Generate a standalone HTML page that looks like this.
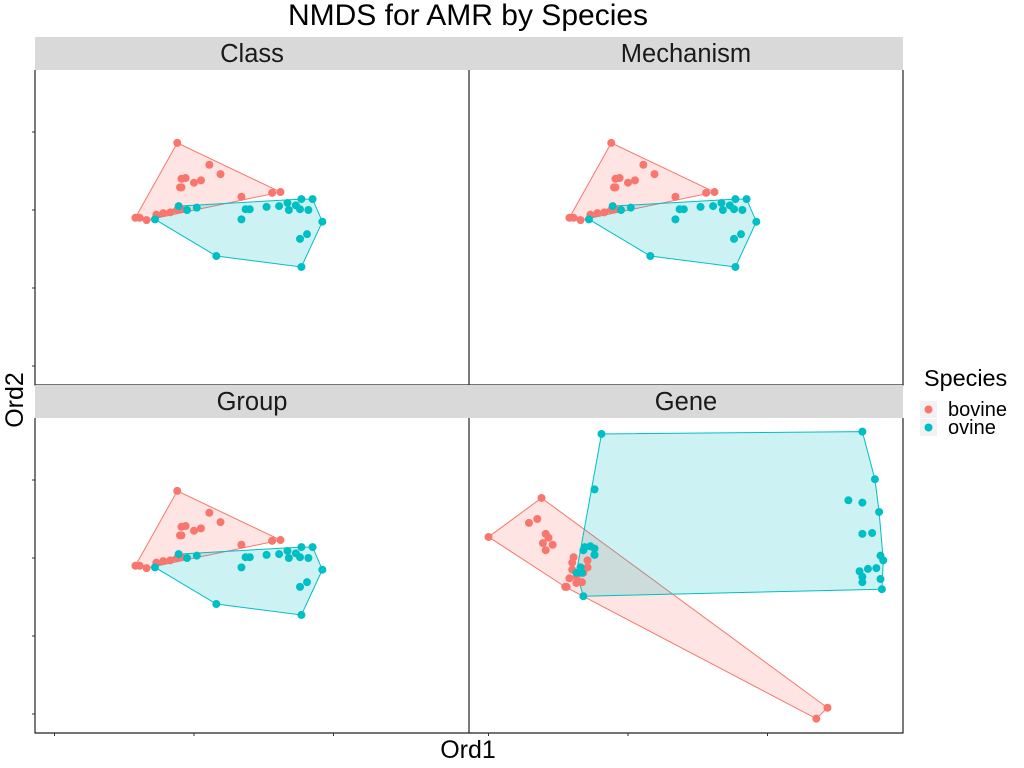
<!DOCTYPE html>
<html><head><meta charset="utf-8"><style>body{margin:0;background:#fff}svg{display:block;font-family:"Liberation Sans",sans-serif}</style></head>
<body>
<svg id="c" width="1024" height="768">
<text x="468" y="25" font-size="30" text-anchor="middle" fill="#000">NMDS for AMR by Species</text>
<text x="468" y="758" font-size="25" text-anchor="middle">Ord1</text>
<text transform="translate(23,400) rotate(-90)" font-size="25" text-anchor="middle">Ord2</text>
<g>
<text x="924" y="386" font-size="23.4">Species</text>
<rect x="920" y="401" width="17" height="17" fill="#f2f2f2"/>
<circle cx="928.5" cy="409.5" r="4" fill="#F8766D"/>
<text x="948" y="416" font-size="20">bovine</text>
<rect x="920" y="419" width="17" height="17" fill="#f2f2f2"/>
<circle cx="928.5" cy="427.5" r="4" fill="#00BFC4"/>
<text x="948" y="434" font-size="20">ovine</text>
</g>
</svg>
<script>
const panelNames=["Class","Mechanism","Group","Gene"];
const xTicks=[-1,0,1];
const yTicks=[1,0,-1,-2];
const baseBovX=[-0.12,0.11,0.19,-0.09,-0.06,-0.10,-0.09,0.00,0.05,0.34,0.56,0.62,-0.42,-0.39,-0.34,-0.27,-0.22,-0.17,-0.12,-0.09];
const baseBovY=[0.86,0.58,0.46,0.40,0.41,0.29,0.29,0.35,0.38,0.17,0.22,0.23,-0.10,-0.10,-0.13,-0.06,-0.04,-0.03,0.00,0.01];
const baseOviX=[-0.11,0.02,-0.05,-0.28,0.37,0.40,0.34,0.52,0.61,0.67,0.68,0.73,0.76,0.77,0.85,0.82,0.92,0.81,0.76,0.16,0.77];
const baseOviY=[0.05,0.03,0,-0.12,0.01,0.01,-0.12,0.04,0.05,0.09,0,0.06,0.01,0.14,0.14,0,-0.15,-0.31,-0.37,-0.59,-0.73];
const geneBovX=[-0.62,-1.00,-0.71,-0.65,-0.59,-0.57,-0.61,-0.54,-0.59,-0.39,-0.40,-0.40,-0.42,-0.37,-0.33,-0.45,-0.44,-0.29,-0.29,-0.32,-0.37,1.43,1.35];
const geneBovY=[0.77,0.27,0.45,0.50,0.31,0.26,0.19,0.17,0.10,0.01,-0.06,-0.15,-0.26,-0.32,-0.31,-0.37,-0.37,-0.03,-0.12,-0.19,-0.24,-1.92,-2.06];
const geneOviX=[-0.19,1.68,1.77,-0.24,1.58,1.68,1.80,1.68,1.75,1.81,1.83,1.66,1.72,1.78,1.68,1.68,1.81,1.82,-0.32,-0.31,-0.27,-0.24,-0.24,-0.32,-0.34,-0.33,-0.37];
const geneOviY=[1.59,1.62,1.01,0.88,0.74,0.71,0.59,0.31,0.32,0.03,-0.03,-0.17,-0.14,-0.13,-0.24,-0.31,-0.27,-0.40,-0.49,0.14,0.15,0.12,0.04,0.10,-0.12,-0.19,-0.19];
const panelData=[[baseBovX,baseBovY,baseOviX,baseOviY],[baseBovX,baseBovY,baseOviX,baseOviY],[baseBovX,baseBovY,baseOviX,baseOviY],[geneBovX,geneBovY,geneOviX,geneOviY]];
const NS="http://www.w3.org/2000/svg";
const svg=document.getElementById('c');
function mk(t,a,p){const e=document.createElementNS(NS,t);for(const k in a)e.setAttribute(k,a[k]);(p||svg).appendChild(e);return e;}
function hull(pts){pts=pts.slice().sort((a,b)=>a[0]-b[0]||a[1]-b[1]);const cr=(o,a,b)=>(a[0]-o[0])*(b[1]-o[1])-(a[1]-o[1])*(b[0]-o[0]);const lo=[],up=[];for(const p of pts){while(lo.length>=2&&cr(lo[lo.length-2],lo[lo.length-1],p)<=0)lo.pop();lo.push(p);}for(let i=pts.length-1;i>=0;i--){const p=pts[i];while(up.length>=2&&cr(up[up.length-2],up[up.length-1],p)<=0)up.pop();up.push(p);}up.pop();lo.pop();return lo.concat(up);}
const W=434,H=315;
const pos=[[35,70],[469,70],[35,418],[469,418]];
const cols=["#F8766D","#00BFC4"];
panelNames.forEach((nm,i)=>{
  const [L,T]=pos[i];
  const sx=v=>L+159+v*139.5, sy=v=>T+140-v*78;
  const g=mk('g',{});
  
  
  const st=mk('rect',{x:L,y:T-33,width:W,height:33,fill:'#D9D9D9'},g);
  
  
  const tx=mk('text',{x:L+W/2,y:T-8,'font-size':25.5,'text-anchor':'middle',fill:'#1a1a1a'},g);tx.textContent=nm;
  
  
  const d=panelData[i];
  for(let s=0;s<2;s++){
    const xs=d[s*2],ys=d[s*2+1];
    const pts=xs.map((x,k)=>[sx(x),sy(ys[k])]);
    const h=hull(pts);
    const pg=mk('polygon',{points:h.map(p=>p.join(',')).join(' '),fill:cols[s],'fill-opacity':0.2,stroke:cols[s],'stroke-width':1},g);
    
    
  }
  for(let s=0;s<2;s++){
    const xs=d[s*2],ys=d[s*2+1];
    xs.forEach((x,k)=>{const c=mk('circle',{cx:sx(x),cy:sy(ys[k]),r:4,fill:cols[s]},g);
      
      });
  }
  const bl=mk('path',{d:`M${L},${T}V${T+H}H${L+W}`+(i%2?`V${T}`:''),fill:'none',stroke:'#222','stroke-width':1.2},g);
  
  
  if(i%2==0) yTicks.forEach(v=>{const t=mk('line',{x1:L-3,x2:L,y1:sy(v),y2:sy(v),stroke:'#333'},g);
    
    });
  if(i>=2) xTicks.forEach(v=>{const t=mk('line',{x1:sx(v),x2:sx(v),y1:T+H,y2:T+H+3,stroke:'#333'},g);
    
    });
});
</script>
</body></html>
